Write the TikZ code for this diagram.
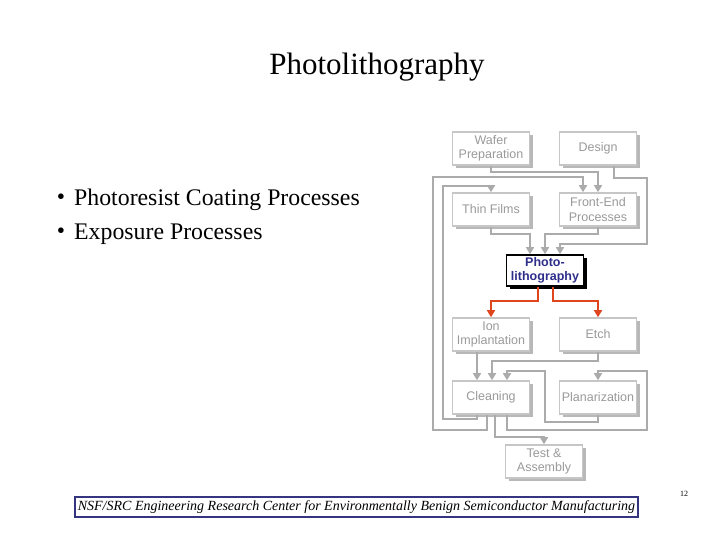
\documentclass[tikz,border=0pt]{standalone}
\usepackage{fontspec}
\setmainfont{Liberation Serif}
\newfontfamily\chartfont{Liberation Sans}
\usetikzlibrary{arrows.meta,calc,shadows}
\definecolor{boxline}{HTML}{C6C6C6}
\definecolor{boxtext}{HTML}{9A9A9A}
\definecolor{boxshade}{HTML}{B8B8B8}
\definecolor{flowgray}{HTML}{ABABAB}
\definecolor{hotred}{HTML}{E0461E}
\definecolor{inkblue}{HTML}{2E2E8A}
\definecolor{footblue}{HTML}{34347F}

\begin{document}
\begin{tikzpicture}[x=1pt, y=-1pt,
    boxbase/.style={line width=1.6pt, fill=white, minimum width=77pt, minimum height=33pt,
                    inner sep=1pt, align=center},
    procbox/.style={boxbase, draw=boxline, text=boxtext,
                    font=\chartfont\fontsize{12.5}{14.5}\selectfont,
                    drop shadow={shadow xshift=3pt, shadow yshift=-3pt, fill=boxshade, opacity=1}},
    keybox/.style={boxbase, draw=black, text=inkblue, minimum height=31pt,
                   font=\chartfont\bfseries\fontsize{12.5}{14.5}\selectfont,
                   drop shadow={shadow xshift=3pt, shadow yshift=-3pt, fill=black, opacity=1}},
    flow/.style={draw=flowgray, line width=1.6pt, -{Triangle[width=8pt,length=7pt]}},
    hotflow/.style={flow, draw=hotred}]
  \useasboundingbox[fill=white] (0,0) rectangle (720,540);

  % slide text
  \node (title) at (377,67) {\fontsize{31}{36}\selectfont Photolithography};
  \node (dotA) at (61,199) {\fontsize{23.5}{27}\selectfont\textbullet};
  \node (dotB) at (61,233) {\fontsize{23.5}{27}\selectfont\textbullet};
  \node[anchor=west, inner sep=0pt] (pointA) at (74,200) {\fontsize{23.8}{27}\selectfont Photoresist Coating Processes};
  \node[anchor=west, inner sep=0pt] (pointB) at (74,234) {\fontsize{23.8}{27}\selectfont Exposure Processes};

  % process flow chart
  \node[procbox] (wafer)  at (491,148.5) {Wafer\\Preparation};
  \node[procbox] (design) at (598,148.5) {Design};
  \node[procbox] (thin)   at (491,209.5) {Thin Films};
  \node[procbox] (front)  at (598,209.5) {Front-End\\Processes};
  \node[keybox]  (photo)  at (545,270.5) {Photo-\\lithography};
  \node[procbox] (ion)    at (491,334.5) {Ion\\Implantation};
  \node[procbox] (etch)   at (598,334.5) {Etch};
  \node[procbox] (clean)  at (491,397.5) {Cleaning};
  \node[procbox] (plan)   at (598,397.5) {Planarization};
  \node[procbox] (test)   at (544,461.5) {Test \&\\Assembly};

  \draw[flow] (wafer.south) -- ++(0,6) -| (front.north);
  \draw[flow] ($(design.south)+(16,0)$) |- (647,178) |- ($(photo.north)+(15,-10)$) -- ($(photo.north)+(15,0)$);
  \draw[flow] (thin.south) |- ($(photo.north)+(-15,-20)$) -- ($(photo.north)+(-15,0)$);
  \draw[flow] (front.south) |- ($(photo.north)+(0,-20)$) -- (photo.north);
  \draw[hotflow] ($(photo.south)+(-7,0)$) |- ($(ion.north)+(0,-16)$) -- (ion.north);
  \draw[hotflow] ($(photo.south)+(8,0)$) |- ($(etch.north)+(0,-16)$) -- (etch.north);
  \draw[flow] ($(ion.south)+(-14,0)$) -- ($(clean.north)+(-14,0)$);
  \draw[flow] (etch.south) |- ($(clean.north)+(1,-19)$) -- ($(clean.north)+(1,0)$);
  \draw[flow] ($(clean.south)+(16,0)$) |- (647,430) |- ($(plan.north)+(0,-9)$) -- (plan.north);
  \draw[flow] (plan.south) |- (545,422) |- ($(clean.north)+(16,-9)$) -- ($(clean.north)+(16,0)$);
  \draw[flow] ($(clean.south)+(4,0)$) |- ($(test.north)+(0,-7)$) -- (test.north);
  % feedback loops on the left
  \draw[flow] ($(clean.south)+(-14,0)$) |- (443,419) |- ($(thin.north)+(0,-6)$) -- (thin.north);
  \draw[flow] ($(clean.south)+(-4,0)$) |- (433,430) |- ($(front.north)+(-15,-15)$) -- ($(front.north)+(-15,0)$);

  % footer
  \node[draw=footblue, line width=1.6pt, minimum width=563pt, minimum height=20pt, inner sep=1pt]
    (footer) at (356.5,507) {\fontsize{14}{15}\selectfont\itshape NSF/SRC Engineering Research Center for Environmentally Benign Semiconductor Manufacturing};
  \node (pageno) at (684,494) {\fontsize{8}{9}\selectfont 12};
\end{tikzpicture}
\end{document}
